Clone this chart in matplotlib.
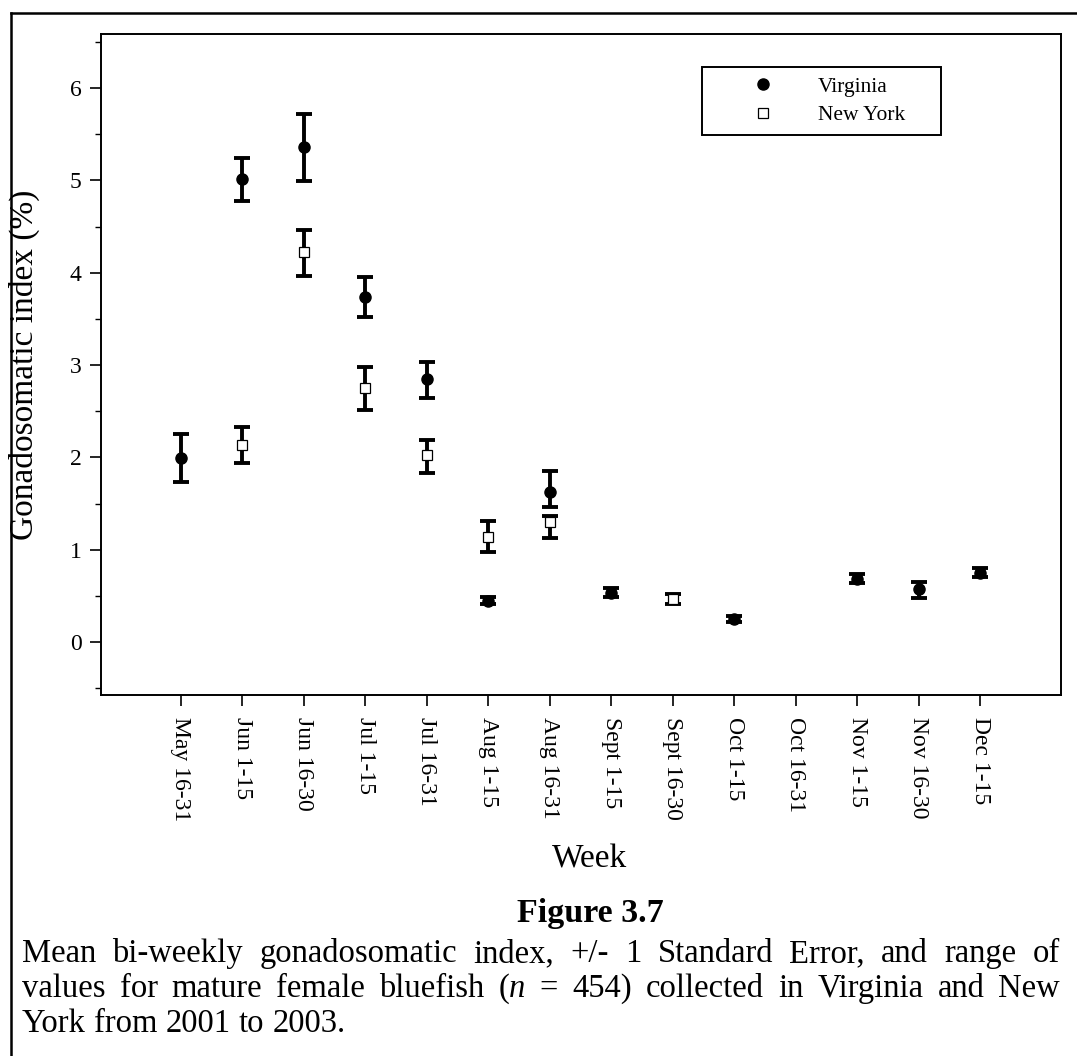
import matplotlib
matplotlib.use('Agg')
import matplotlib.pyplot as plt
from matplotlib.lines import Line2D
from matplotlib.ticker import MultipleLocator, FixedLocator

plt.rcParams['font.family'] = ['Liberation Serif', 'DejaVu Serif']

weeks = ['May 16-31', 'Jun 1-15', 'Jun 16-30', 'Jul 1-15', 'Jul 16-31',
         'Aug 1-15', 'Aug 16-31', 'Sept 1-15', 'Sept 16-30', 'Oct 1-15',
         'Oct 16-31', 'Nov 1-15', 'Nov 16-30', 'Dec 1-15']

# Virginia: bi-weekly mean GSI with lower / upper bar ends
va_week = [0, 1, 2, 3, 4, 5, 6, 7, 9, 11, 12, 13]
va_mean = [1.99, 5.01, 5.36, 3.74, 2.85, 0.44, 1.62, 0.53, 0.25, 0.68, 0.57, 0.75]
va_low = [1.73, 4.78, 4.99, 3.52, 2.64, 0.41, 1.46, 0.49, 0.22, 0.64, 0.48, 0.70]
va_high = [2.25, 5.24, 5.72, 3.95, 3.03, 0.49, 1.85, 0.58, 0.28, 0.74, 0.65, 0.80]

# New York
ny_week = [1, 2, 3, 4, 5, 6, 8]
ny_mean = [2.13, 4.22, 2.75, 2.02, 1.14, 1.30, 0.47]
ny_low = [1.94, 3.96, 2.51, 1.83, 0.98, 1.13, 0.41]
ny_high = [2.33, 4.46, 2.98, 2.19, 1.31, 1.37, 0.52]

W, H = 1077, 1056
fig = plt.figure(figsize=(W / 100, H / 100), dpi=100)
ax = fig.add_axes([101 / W, 1 - 695 / H, 960 / W, 661 / H])

bar_style = dict(fmt='none', ecolor='black', elinewidth=2.8, capsize=6, capthick=2.8, zorder=2)
ax.errorbar(va_week, va_mean,
            yerr=[[m - l for m, l in zip(va_mean, va_low)], [h - m for m, h in zip(va_mean, va_high)]],
            **bar_style)
ax.errorbar(ny_week, ny_mean,
            yerr=[[m - l for m, l in zip(ny_mean, ny_low)], [h - m for m, h in zip(ny_mean, ny_high)]],
            **bar_style)
ax.plot(va_week, va_mean, 'o', color='black', ms=8, zorder=3, label='Virginia')
ax.plot(ny_week, ny_mean, 's', mfc='white', mec='black', mew=0.9, ms=7.5, zorder=3, label='New York')

ax.set_xlim(-1.30, 14.31)
ax.set_ylim(-0.574, 6.585)
ax.xaxis.set_major_locator(FixedLocator(range(len(weeks))))
ax.set_xticklabels(weeks, rotation=270, fontsize=17)
ax.yaxis.set_major_locator(MultipleLocator(1))
ax.yaxis.set_minor_locator(MultipleLocator(0.5))
ax.tick_params(axis='both', which='major', direction='out', length=8, width=1.2, color='black')
ax.tick_params(axis='x', pad=8)
ax.tick_params(axis='y', which='major', labelsize=17, pad=6)
ax.tick_params(axis='y', which='minor', direction='out', length=4.5, width=1.0)
for sp in ax.spines.values():
    sp.set_linewidth(1.4)

ax.set_ylabel('Gonadosomatic index (%)', fontsize=24)
ax.yaxis.set_label_coords(-61 / 960, 0.5)
ax.set_xlabel('Week', fontsize=24)
ax.xaxis.label.set_va('center')
ax.xaxis.set_label_coords((590 - 101) / 960, (695 - 859) / 661)

leg = ax.legend(loc='upper left', bbox_to_anchor=(0.626, 0.849, 0.249, 0.101), mode='expand',
                fontsize=15.5, frameon=True, fancybox=False, edgecolor='black', framealpha=1,
                borderaxespad=0, borderpad=0.45, handlelength=4.8, handletextpad=0.12,
                labelspacing=0.4)
leg.get_frame().set_linewidth(1.4)

# outer frame lines (top and left)
fig.add_artist(Line2D([11 / W, 1], [1 - 13 / H, 1 - 13 / H], color='black', lw=1.8, transform=fig.transFigure))
fig.add_artist(Line2D([11 / W, 11 / W], [1 - 13 / H, 0], color='black', lw=1.8, transform=fig.transFigure))

fig.text(590 / W, 1 - 922 / H, 'Figure 3.7', fontsize=24.5, fontweight='bold', ha='center', va='baseline')

# justified caption
cap_fs = 23.5
fig.canvas.draw()
renderer = fig.canvas.get_renderer()


def caption_line(words, baseline, x0, x1, justify=True):
    placed = []
    widths = []
    for word in words:
        parts = []
        w = 0
        for txt, style in word:
            t = fig.text(0, 0, txt, fontsize=cap_fs, style=style, va='baseline', ha='left')
            tw = t.get_window_extent(renderer).width
            parts.append((t, tw))
            w += tw
        placed.append(parts)
        widths.append(w)
    if justify:
        gap = (x1 - x0 - sum(widths)) / (len(words) - 1)
    else:
        gap = 0.25 * cap_fs * 100 / 72
    x = x0
    for parts, w in zip(placed, widths):
        px = x
        for t, tw in parts:
            t.set_position((px / W, 1 - baseline / H))
            px += tw
        x += w + gap


def plain(s):
    return [[(w, 'normal')] for w in s.split()]


caption_line(plain('Mean bi-weekly gonadosomatic index, +/- 1 Standard Error, and range of'), 962, 22, 1060)
caption_line(plain('values for mature female bluefish') + [[('(', 'normal'), ('n', 'italic')]]
             + plain('= 454) collected in Virginia and New'), 997, 22, 1060)
caption_line(plain('York from 2001 to 2003.'), 1032, 22, 1060, justify=False)

fig.savefig('out.png', dpi=100)
